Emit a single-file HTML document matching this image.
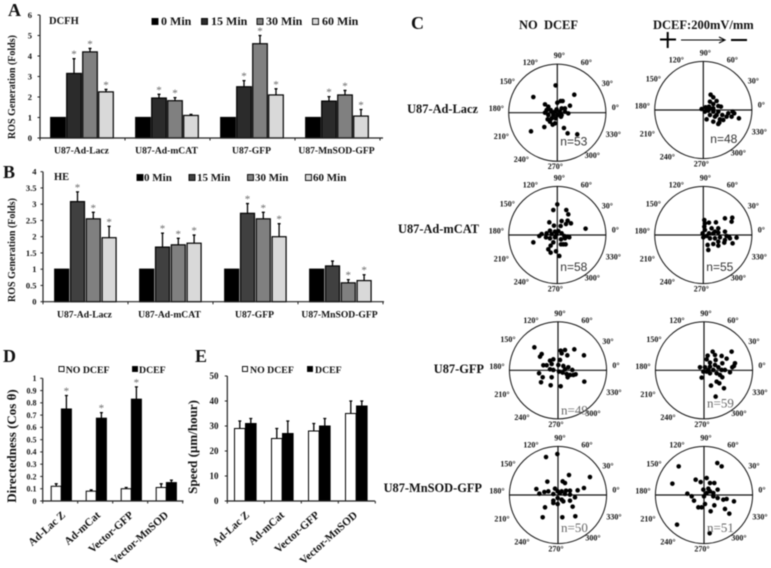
<!DOCTYPE html>
<html lang="en">
<head>
<meta charset="utf-8">
<title>ROS generation and directedness figure</title>
<style>
html,body{margin:0;padding:0;background:#fff;width:771px;height:568px;overflow:hidden}
svg{display:block;filter:blur(.45px)}
text{font-family:"Liberation Serif",serif;font-weight:bold;fill:#111}
</style>
</head>
<body>
<svg id="figure" xmlns="http://www.w3.org/2000/svg" width="771" height="568" viewBox="0 0 771 568">
  <text x="8" y="16" font-size="18">A</text>
  <text x="3" y="178" font-size="18">B</text>
  <text x="411" y="29" font-size="18">C</text>
  <text x="3" y="362" font-size="18">D</text>
  <text x="195" y="362" font-size="18">E</text>
  <text x="49" y="24" font-size="10.5">DCFH</text>
  <text x="54" y="180" font-size="10.5">HE</text>
  <text transform="translate(15 87) rotate(-90)" text-anchor="middle" font-size="10">ROS Generation (Folds)</text>
  <text transform="translate(15 250) rotate(-90)" text-anchor="middle" font-size="10">ROS Generation (Folds)</text>
  <text transform="translate(16 446) rotate(-90)" text-anchor="middle" font-size="13">Directedness (Cos θ)</text>
  <text transform="translate(197 447) rotate(-90)" text-anchor="middle" font-size="13">Speed (µm/hour)</text>
  <text x="519" y="29" font-size="12.5" xml:space="preserve">NO  DCEF</text>
  <text x="653" y="29" font-size="12.5">DCEF:200mV/mm</text>
  <g stroke="#000" fill="none">
    <path d="M660 39.5H676M667.7 32V48" stroke-width="2"/>
    <path d="M681 40H725M719 37L725 40L719 43" stroke-width="1.1"/>
    <path d="M731 40H747" stroke-width="2"/>
  </g>
  <text x="478" y="113" text-anchor="end" font-size="12.4">U87-Ad-Lacz</text>
  <text x="479" y="233" text-anchor="end" font-size="12.4">U87-Ad-mCAT</text>
  <text x="484" y="373" text-anchor="end" font-size="12.4">U87-GFP</text>
  <text x="482" y="492" text-anchor="end" font-size="12.4">U87-MnSOD-GFP</text>
</svg>
<script>
// ---- Panel A data (DCFH) ----
const rosCategories = ['U87-Ad-Lacz', 'U87-Ad-mCAT', 'U87-GFP', 'U87-MnSOD-GFP'];
const timeLabels = ['0 Min', '15 Min', '30 Min', '60 Min'];
const aMin0 = [1, 1, 1, 1];
const aMin15 = [3.15, 1.95, 2.5, 1.8];
const aMin30 = [4.2, 1.82, 4.6, 2.1];
const aMin60 = [2.25, 1.1, 2.1, 1.07];
const aErr0 = [0, 0, 0, 0];
const aErr15 = [0.72, 0.18, 0.3, 0.22];
const aErr30 = [0.17, 0.15, 0.4, 0.22];
const aErr60 = [0.12, 0.05, 0.3, 0.32];
const aStar0 = [0, 0, 0, 0];
const aStar15 = [1, 1, 1, 1];
const aStar30 = [1, 1, 1, 1];
const aStar60 = [1, 0, 1, 1];
const aTicks = ['0', '1', '2', '3', '4', '5', '6'];

// ---- Panel B data (HE) ----
const bMin0 = [1, 1, 1, 1];
const bMin15 = [3.08, 1.68, 2.72, 1.1];
const bMin30 = [2.55, 1.75, 2.55, 0.58];
const bMin60 = [1.97, 1.8, 2, 0.65];
const bErr0 = [0, 0, 0, 0];
const bErr15 = [0.3, 0.43, 0.3, 0.15];
const bErr30 = [0.2, 0.2, 0.2, 0.1];
const bErr60 = [0.35, 0.25, 0.4, 0.18];
const bStar0 = [0, 0, 0, 0];
const bStar15 = [1, 1, 1, 0];
const bStar30 = [1, 1, 1, 1];
const bStar60 = [1, 1, 1, 1];
const bTicks = ['0', '0.5', '1', '1.5', '2', '2.5', '3', '3.5', '4'];

// ---- Panels D / E data ----
const migrationCategories = ['Ad-Lac Z', 'Ad-mCat', 'Vector-GFP', 'Vector-MnSOD'];
const fieldLabels = ['NO DCEF', 'DCEF'];
const dNoField = [0.12, 0.08, 0.1, 0.11];
const dField = [0.75, 0.675, 0.83, 0.15];
const dNoFieldErr = [0.02, 0.01, 0.01, 0.03];
const dFieldErr = [0.11, 0.045, 0.1, 0.02];
const dNoFieldStar = [0, 0, 0, 0];
const dFieldStar = [1, 1, 1, 0];
const dTicks = ['0', '0.1', '0.2', '0.3', '0.4', '0.5', '0.6', '0.7', '0.8', '0.9', '1'];
const eNoField = [29, 25, 28, 35];
const eField = [31, 27, 30, 38];
const eNoFieldErr = [3, 4, 3, 5];
const eFieldErr = [2, 5, 3, 2];
const eNoStar = [0, 0, 0, 0];
const eTicks = ['0', '10', '20', '30', '40', '50'];

// ---- Panel C data: cell end points [x, y]; the polar axis spans +/-146 units ----
const polarAngles = [0, 30, 60, 90, 120, 150, 180, 210, 240, 270, 300, 330];
const lacNoField = [[-5,82],[51,54],[-72,47],[10,35],[0,30],[16,35],[-37,25],[-27,18],[38,21],[13,13],[-2,10],[23,13],[-17,3],[-37,0],[-7,3],[8,3],[23,3],[33,-2],[-27,-7],[-12,-7],[1,-7],[13,-7],[-29,-20],[-17,-17],[-5,-17],[11,-12],[-22,-27],[-7,-32],[-14,-36],[-39,-43],[-79,-56],[20,-46],[31,-62],[60,-65],[-20,8],[-32,8]];
const lacField = [[22,46],[30,38],[40,27],[20,25],[30,18],[45,12],[-5,3],[7,8],[17,10],[30,5],[53,10],[15,-2],[30,-5],[45,-5],[57,-15],[75,-10],[88,-5],[93,-10],[85,-20],[107,-25],[10,-28],[20,-15],[35,-20],[50,-28],[70,-20],[30,-35],[48,-38],[45,-42],[5,-5],[20,5],[40,-15],[60,-30]];
const mcatNoField = [[0,92],[-12,75],[27,75],[33,62],[13,42],[31,43],[41,35],[-24,38],[-10,28],[10,27],[26,33],[85,19],[-22,13],[-7,10],[3,12],[-47,3],[-54,-3],[-32,5],[-17,3],[-2,3],[13,5],[31,-5],[36,-7],[21,-3],[-34,-7],[-22,-10],[-7,-7],[11,-13],[23,-10],[-72,-22],[-12,-22],[11,-28],[18,-28],[25,-28],[-20,-32],[-27,-43],[-20,-53],[-4,-49],[6,-63]];
const mcatField = [[65,50],[87,52],[85,40],[3,45],[17,37],[38,38],[5,35],[3,25],[45,20],[25,20],[35,10],[45,7],[5,15],[17,5],[30,5],[65,10],[-2,5],[10,-3],[70,-3],[77,-5],[100,-8],[50,-7],[65,-15],[88,-25],[20,-10],[35,-10],[45,-20],[30,-27],[45,-32],[13,-30],[15,-45],[63,-23],[0,-7],[80,-10]];
const gfpNoField = [[-71,69],[49,63],[21,61],[8,59],[11,51],[28,45],[78,45],[-49,49],[-54,41],[6,31],[-14,33],[-24,29],[-19,19],[-44,15],[-34,15],[-24,3],[-14,1],[1,16],[16,13],[31,9],[21,3],[43,1],[3,-4],[14,-7],[26,-11],[36,-14],[46,-14],[53,-12],[29,-21],[-57,-9],[-46,-21],[-19,-21],[-51,-36],[79,-34],[-22,-45],[8,-48]];
const gfpField = [[26,56],[83,56],[11,44],[33,46],[53,43],[8,33],[35,31],[68,35],[18,23],[55,21],[93,21],[90,13],[85,9],[-12,9],[3,9],[18,11],[33,16],[43,9],[-2,-4],[13,1],[28,1],[53,1],[63,1],[78,-6],[18,-9],[38,-9],[48,-14],[-7,-22],[55,-21],[38,-34],[46,-39],[21,-46],[60,-54],[35,-79],[8,-4]];
const mnsodNoField = [[-36,114],[-2,123],[96,54],[33,60],[14,41],[21,36],[-32,40],[78,21],[59,14],[-65,18],[-29,11],[-41,9],[-56,4],[-9,19],[-1,11],[11,11],[24,13],[36,13],[-14,3],[6,6],[21,3],[36,1],[51,-7],[-14,-17],[-1,-9],[11,-14],[-1,-27],[16,-19],[36,-17],[-39,-37],[44,-35],[-46,-67],[13,-67],[52,-64],[-14,-24]];
const mnsodField = [[-76,86],[40,96],[53,86],[-95,34],[-25,46],[8,51],[-10,39],[18,36],[31,36],[-50,4],[-37,-4],[-30,-17],[-2,16],[13,19],[8,6],[18,11],[28,6],[41,16],[0,-4],[28,-4],[41,-9],[58,-14],[68,-12],[90,-19],[-17,-37],[-7,-37],[3,-27],[31,-31],[20,-49],[63,-42],[76,-56],[-81,-89],[17,-115]];

const svg = document.getElementById('figure');
const NS = 'http://www.w3.org/2000/svg';
function mk(tag, parent, attrs, txt) {
  const el = document.createElementNS(NS, tag);
  for (const k in attrs) el.setAttribute(k, attrs[k]);
  if (txt !== undefined) el.textContent = txt;
  parent.appendChild(el);
  return el;
}
function grp(parent) { return mk('g', parent, {}); }

function drawBarPanel(p) {
  const root = grp(svg);
  
  
  const y = v => p.y0 - (v / p.yMax) * (p.y0 - p.yTop);
  const gx = i => p.x0 + i * p.groupW;

  p.series.forEach((values, s) => {
    values.forEach((v, i) => {
      const bx = gx(i) + p.offset + s * p.step;
      const err = p.errors[s][i];
      if (err > 0) {
        const stem = mk('path', root, { d: `M${bx + p.barW / 2} ${y(v)}V${y(v + err)}m-1.5 0h3`, stroke: '#000', 'stroke-width': 1.3, fill: 'none' });
        
        
      }
      const bar = mk('rect', root, { x: bx, y: y(v), width: p.barW, height: p.y0 - y(v), fill: p.fills[s], stroke: '#000', 'stroke-width': p.barStroke });
      
      
      if (p.stars[s][i]) {
        const st = mk('text', root, { x: bx + p.barW / 2, y: y(v + err) - 1, 'text-anchor': 'middle', 'font-size': 11, style: 'fill:#666;font-weight:normal' }, '*');
        
        
      }
    });
  });

  const axes = mk('path', root, { d: `M${p.x0} ${p.yTop}V${p.y0}H${p.x1}`, stroke: '#222', 'stroke-width': 1.2, fill: 'none' });
  
  

  p.ticks.forEach(t => {
    const ty = y(parseFloat(t));
    const mark = mk('path', root, { d: `M${p.x0 - 2.5} ${ty}H${p.x0}`, stroke: '#222', 'stroke-width': 1 });
    
    
    const lab = mk('text', root, { x: p.tickRight, y: ty + 2.8, 'text-anchor': 'end', 'font-size': p.tickFont }, t);
    
    
  });

  for (let i = 0; i <= p.categories.length; i++) {
    const mark = mk('path', root, { d: `M${gx(i)} ${p.y0}v2.5`, stroke: '#222', 'stroke-width': 1 });
    
    
  }

  p.categories.forEach((c, i) => {
    let lab;
    if (p.rotated) {
      const ex = p.labelEnds[i];
      lab = mk('text', root, { transform: `translate(${ex} 516) rotate(-42)`, 'text-anchor': 'end', 'font-size': 11 }, c);
    } else {
      lab = mk('text', root, { x: gx(i) + p.groupW / 2 + p.labelShift, y: p.labelY, 'text-anchor': 'middle', 'font-size': 9.6 }, c);
    }
    
    
  });

  p.legendLabels.forEach((l, s) => {
    const sw = mk('rect', root, { x: p.legendSwatch[s], y: p.legendY - 3, width: p.swatchSize, height: p.swatchSize, fill: p.fills[s], stroke: '#000', 'stroke-width': 0.9 });
    
    
    const lt = mk('text', root, { x: p.legendText[s], y: p.legendY + 3.6, 'font-size': p.legendFont }, l);
    
    
  });
}

const timeFillsA = ['#000', '#2b2b2b', '#808080', '#d9d9d9'];
const timeFillsB = ['#000', '#404040', '#808080', '#d9d9d9'];

drawBarPanel({ name: 'dcfh', x0: 40, x1: 383, y0: 138, yTop: 15, yMax: 6, groupW: 85, offset: 10.7, step: 16, barW: 14.6, barStroke: 1.2,
  series: [aMin0, aMin15, aMin30, aMin60], errors: [aErr0, aErr15, aErr30, aErr60], stars: [aStar0, aStar15, aStar30, aStar60],
  fills: timeFillsA, ticks: aTicks, tickRight: 32, tickFont: 8.5, categories: rosCategories, labelY: 153.5, labelShift: -1,
  legendLabels: timeLabels, legendSwatch: [152, 201.5, 257, 312.5], legendText: [161, 211, 266, 322], legendY: 21.5, swatchSize: 6, legendFont: 12 });

drawBarPanel({ name: 'he', x0: 43, x1: 384, y0: 301.7, yTop: 171.7, yMax: 4, groupW: 85, offset: 11.7, step: 15.8, barW: 14, barStroke: 1.2,
  series: [bMin0, bMin15, bMin30, bMin60], errors: [bErr0, bErr15, bErr30, bErr60], stars: [bStar0, bStar15, bStar30, bStar60],
  fills: timeFillsB, ticks: bTicks, tickRight: 36.5, tickFont: 8.5, categories: rosCategories, labelY: 317.5, labelShift: -1,
  legendLabels: timeLabels, legendSwatch: [137, 189, 247.5, 305.5], legendText: [144, 197, 255, 313], legendY: 177.5, swatchSize: 6, legendFont: 11 });

drawBarPanel({ name: 'directedness', x0: 42.7, x1: 183.5, y0: 501, yTop: 378.3, yMax: 1, groupW: 35, offset: 8.5, step: 10.2, barW: 10, barStroke: 1,
  series: [dNoField, dField], errors: [dNoFieldErr, dFieldErr], stars: [dNoFieldStar, dFieldStar],
  fills: ['#fff', '#000'], ticks: dTicks, tickRight: 36.5, tickFont: 8, categories: migrationCategories, rotated: true, labelEnds: [66, 101, 134, 169],
  legendLabels: fieldLabels, legendSwatch: [59, 132.5], legendText: [65.7, 139], legendY: 369.5, swatchSize: 5, legendFont: 9.8 });

drawBarPanel({ name: 'speed', x0: 227.3, x1: 375, y0: 501, yTop: 376, yMax: 50, groupW: 37, offset: 7.2, step: 11, barW: 10.6, barStroke: 1,
  series: [eNoField, eField], errors: [eNoFieldErr, eFieldErr], stars: [eNoStar, eNoStar],
  fills: ['#fff', '#000'], ticks: eTicks, tickRight: 218.5, tickFont: 9, categories: migrationCategories, rotated: true, labelEnds: [250, 285, 320, 358],
  legendLabels: fieldLabels, legendSwatch: [242.5, 307.5], legendText: [250, 315], legendY: 369.5, swatchSize: 5, legendFont: 9.8 });

const labelDx = { 0: 58, 30: 50, 60: 29, 90: 2, 120: -27, 150: -50, 180: -61, 210: -56, 240: -36, 270: -2, 300: 35, 330: 56 };
const labelDy = { 0: -5, 30: -29, 60: -50, 90: -57, 120: -50, 150: -31, 180: -4, 210: 24, 240: 47, 270: 54, 300: 43, 330: 22 };

function drawPolar(cfg) {
  const root = grp(svg);
  
  
  const R = 48.6, UNITS = 146;
  const sx = v => cfg.cx + (v / UNITS) * R;
  const sy = v => cfg.cy - (v / UNITS) * R;

  const ring = mk('circle', root, { cx: cfg.cx, cy: cfg.cy, r: R, fill: 'none', stroke: '#111', 'stroke-width': 1 });
  
  
  const cross = mk('path', root, { d: `M${cfg.cx - R} ${cfg.cy}H${cfg.cx + R}M${cfg.cx} ${cfg.cy - R}V${cfg.cy + R}`, stroke: '#111', 'stroke-width': 1.2 });
  
  

  cfg.points.forEach(pt => {
    const dot = mk('circle', root, { cx: sx(pt[0]), cy: sy(pt[1]), r: 2.3, fill: '#000' });
    
    
  });

  polarAngles.forEach(a => {
    const lab = mk('text', root, { x: cfg.cx + labelDx[a], y: cfg.cy + labelDy[a] + 2.5, 'text-anchor': 'middle', 'font-size': 8 }, a + '°');
    
    
  });

  const nl = mk('text', root, { x: cfg.cx + cfg.nDx, y: cfg.cy + cfg.nDy, 'font-size': cfg.nSize, style: `fill:${cfg.nColor};font-weight:normal;font-family:${cfg.nFont}` }, cfg.nText);
  
  
}

const sansN = '"Liberation Sans",sans-serif';
const serifN = '"Liberation Serif",serif';
drawPolar({ name: 'polar-lacz-no-dcef', cx: 557.3, cy: 112.7, points: lacNoField, nText: 'n=53', nDx: 3, nDy: 33, nSize: 12, nFont: sansN, nColor: '#333' });
drawPolar({ name: 'polar-lacz-dcef', cx: 703.3, cy: 110, points: lacField, nText: 'n=48', nDx: 7, nDy: 33, nSize: 12, nFont: sansN, nColor: '#333' });
drawPolar({ name: 'polar-mcat-no-dcef', cx: 557.3, cy: 235, points: mcatNoField, nText: 'n=58', nDx: 3, nDy: 36, nSize: 12, nFont: sansN, nColor: '#333' });
drawPolar({ name: 'polar-mcat-dcef', cx: 703.3, cy: 235, points: mcatField, nText: 'n=55', nDx: 3, nDy: 36, nSize: 12, nFont: sansN, nColor: '#333' });
drawPolar({ name: 'polar-gfp-no-dcef', cx: 558, cy: 370.3, points: gfpNoField, nText: 'n=49', nDx: 3, nDy: 44, nSize: 13, nFont: serifN, nColor: '#666' });
drawPolar({ name: 'polar-gfp-dcef', cx: 704, cy: 370.3, points: gfpField, nText: 'n=59', nDx: 3, nDy: 37, nSize: 13, nFont: serifN, nColor: '#666' });
drawPolar({ name: 'polar-mnsod-no-dcef', cx: 558, cy: 495, points: mnsodNoField, nText: 'n=50', nDx: 3, nDy: 37, nSize: 13, nFont: serifN, nColor: '#666' });
drawPolar({ name: 'polar-mnsod-dcef', cx: 704, cy: 495, points: mnsodField, nText: 'n=51', nDx: 3, nDy: 37, nSize: 13, nFont: serifN, nColor: '#666' });
</script>
</body>
</html>
